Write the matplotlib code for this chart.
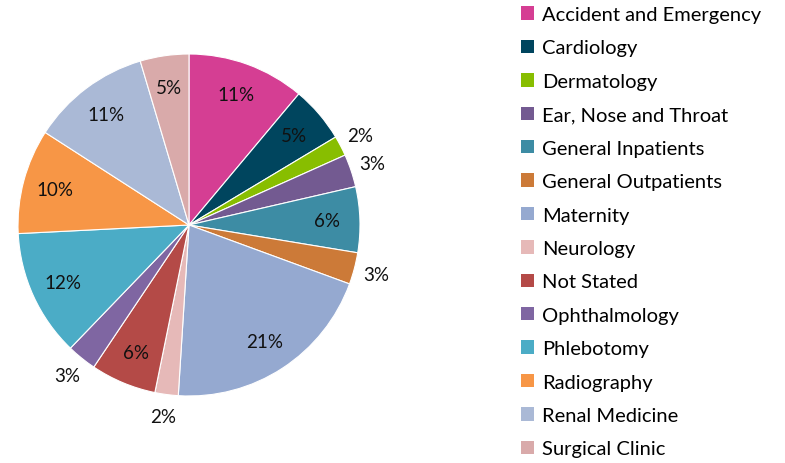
import matplotlib
matplotlib.use("Agg")
import matplotlib.pyplot as plt
import numpy as np
from matplotlib.patches import Patch

plt.rcParams['font.family'] = ['Lato', 'DejaVu Sans']

# Data
departments = ["Accident and Emergency", "Cardiology", "Dermatology", "Ear, Nose and Throat",
               "General Inpatients", "General Outpatients", "Maternity", "Neurology",
               "Not Stated", "Ophthalmology", "Phlebotomy", "Radiography",
               "Renal Medicine", "Surgical Clinic"]
shares = [11.1, 5.3, 1.9, 3.1, 6.2, 3.0, 20.4, 2.2, 6.2, 2.8, 12.0, 9.9, 11.3, 4.6]
labels = ["11%", "5%", "2%", "3%", "6%", "3%", "21%", "2%", "6%", "3%", "12%", "10%", "11%", "5%"]
colors = ["#D53E93", "#00455E", "#88BE00", "#735A91", "#3D8CA4", "#CC7A38", "#95A9D0",
          "#E6B9B8", "#B44A47", "#7F66A2", "#4BACC6", "#F79646", "#AAB9D6", "#D9AAAA"]

fig = plt.figure(figsize=(7.85, 4.64), dpi=100)
ax = fig.add_axes([18/785, 67/464, 342/785, 342/464])

wedges, _ = ax.pie(shares, colors=colors, startangle=90, counterclock=False,
                   wedgeprops=dict(edgecolor="white", linewidth=0.8))
ax.set_aspect("equal")
ax.set_xlim(-1, 1)
ax.set_ylim(-1, 1)

# Percent labels: small slices go outside
for w, lab, s in zip(wedges, labels, shares):
    ang = np.deg2rad((w.theta1 + w.theta2) / 2)
    r = 1.13 if s < 3.15 else 0.81
    ax.text(r * np.cos(ang), r * np.sin(ang), lab, ha="center", va="center",
            fontsize=13.5, color="#111111")

handles = [Patch(facecolor=c, edgecolor="none") for c in colors]
fig.legend(handles, departments, loc="upper left", bbox_to_anchor=(513/785, 1 + 1/464),
           frameon=False, fontsize=14.5, handlelength=0.65, handleheight=0.65,
           handletextpad=0.4, labelspacing=0.815, borderaxespad=0)

fig.savefig("out.png", dpi=100)
